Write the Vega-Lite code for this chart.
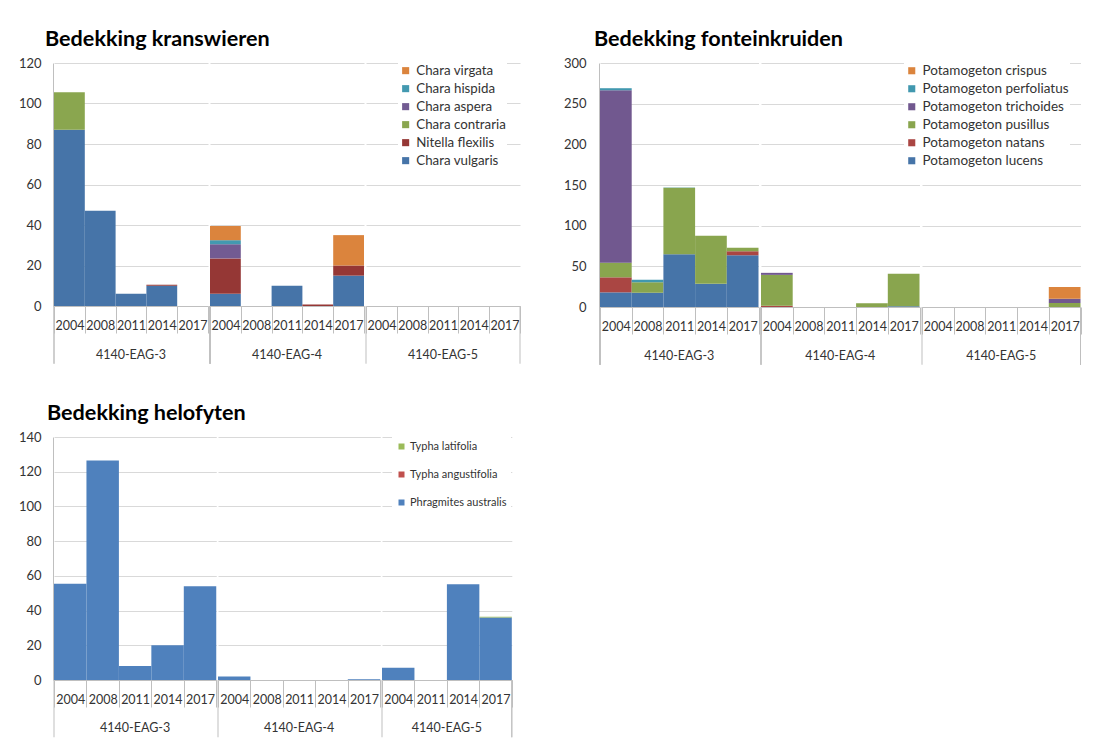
{
  "$schema": "https://vega.github.io/schema/vega-lite/v6.json",
  "padding": {"left": 18, "top": 29, "right": 5, "bottom": 5},
  "background": "white",
  "config": {
    "font": "Lato",
    "view": {"stroke": null},
    "axis": {"labelFont": "Lato", "labelColor": "#333333", "labelFontSize": 12.5, "domainColor": "#BFBFBF", "tickColor": "#BFBFBF", "gridColor": "#D9D9D9"},
    "legend": {"fillColor": "white", "labelFont": "Lato", "labelColor": "#333333", "symbolType": "square", "symbolStrokeWidth": 0, "title": null, "labelOffset": 4},
    "title": {"font": "Lato", "fontSize": 21.6, "fontWeight": "bold", "color": "#000000", "anchor": "start", "frame": "group"}
  },
  "datasets": {
    "kran": [
      {"loc": "4140-EAG-3", "year": "2004", "sp": "Chara vulgaris", "v": 87, "rank": 1},
      {"loc": "4140-EAG-3", "year": "2004", "sp": "Chara contraria", "v": 18.5, "rank": 3},
      {"loc": "4140-EAG-3", "year": "2008", "sp": "Chara vulgaris", "v": 47, "rank": 1},
      {"loc": "4140-EAG-3", "year": "2011", "sp": "Chara vulgaris", "v": 6, "rank": 1},
      {"loc": "4140-EAG-3", "year": "2014", "sp": "Chara vulgaris", "v": 10, "rank": 1},
      {"loc": "4140-EAG-3", "year": "2014", "sp": "Nitella flexilis", "v": 0.5, "rank": 2},
      {"loc": "4140-EAG-3", "year": "2017", "sp": "Chara vulgaris", "v": 0, "rank": 1},
      {"loc": "4140-EAG-4", "year": "2004", "sp": "Chara vulgaris", "v": 6, "rank": 1},
      {"loc": "4140-EAG-4", "year": "2004", "sp": "Nitella flexilis", "v": 17.5, "rank": 2},
      {"loc": "4140-EAG-4", "year": "2004", "sp": "Chara aspera", "v": 7, "rank": 4},
      {"loc": "4140-EAG-4", "year": "2004", "sp": "Chara hispida", "v": 2, "rank": 5},
      {"loc": "4140-EAG-4", "year": "2004", "sp": "Chara virgata", "v": 7, "rank": 6},
      {"loc": "4140-EAG-4", "year": "2008", "sp": "Chara vulgaris", "v": 0, "rank": 1},
      {"loc": "4140-EAG-4", "year": "2011", "sp": "Chara vulgaris", "v": 10, "rank": 1},
      {"loc": "4140-EAG-4", "year": "2014", "sp": "Nitella flexilis", "v": 0.7, "rank": 2},
      {"loc": "4140-EAG-4", "year": "2017", "sp": "Chara vulgaris", "v": 15, "rank": 1},
      {"loc": "4140-EAG-4", "year": "2017", "sp": "Nitella flexilis", "v": 5, "rank": 2},
      {"loc": "4140-EAG-4", "year": "2017", "sp": "Chara virgata", "v": 15, "rank": 6},
      {"loc": "4140-EAG-5", "year": "2004", "sp": "Chara vulgaris", "v": 0, "rank": 1},
      {"loc": "4140-EAG-5", "year": "2008", "sp": "Chara vulgaris", "v": 0, "rank": 1},
      {"loc": "4140-EAG-5", "year": "2011", "sp": "Chara vulgaris", "v": 0, "rank": 1},
      {"loc": "4140-EAG-5", "year": "2014", "sp": "Chara vulgaris", "v": 0, "rank": 1},
      {"loc": "4140-EAG-5", "year": "2017", "sp": "Chara vulgaris", "v": 0, "rank": 1}
    ],
    "fontein": [
      {"loc": "4140-EAG-3", "year": "2004", "sp": "Potamogeton lucens", "v": 18, "rank": 1},
      {"loc": "4140-EAG-3", "year": "2004", "sp": "Potamogeton natans", "v": 18.5, "rank": 2},
      {"loc": "4140-EAG-3", "year": "2004", "sp": "Potamogeton pusillus", "v": 18, "rank": 3},
      {"loc": "4140-EAG-3", "year": "2004", "sp": "Potamogeton trichoides", "v": 212, "rank": 4},
      {"loc": "4140-EAG-3", "year": "2004", "sp": "Potamogeton perfoliatus", "v": 2.5, "rank": 5},
      {"loc": "4140-EAG-3", "year": "2008", "sp": "Potamogeton lucens", "v": 17.5, "rank": 1},
      {"loc": "4140-EAG-3", "year": "2008", "sp": "Potamogeton pusillus", "v": 13, "rank": 3},
      {"loc": "4140-EAG-3", "year": "2008", "sp": "Potamogeton perfoliatus", "v": 3, "rank": 5},
      {"loc": "4140-EAG-3", "year": "2011", "sp": "Potamogeton lucens", "v": 65, "rank": 1},
      {"loc": "4140-EAG-3", "year": "2011", "sp": "Potamogeton pusillus", "v": 81.5, "rank": 3},
      {"loc": "4140-EAG-3", "year": "2011", "sp": "Potamogeton perfoliatus", "v": 0.5, "rank": 5},
      {"loc": "4140-EAG-3", "year": "2014", "sp": "Potamogeton lucens", "v": 28.5, "rank": 1},
      {"loc": "4140-EAG-3", "year": "2014", "sp": "Potamogeton pusillus", "v": 59, "rank": 3},
      {"loc": "4140-EAG-3", "year": "2017", "sp": "Potamogeton lucens", "v": 63.5, "rank": 1},
      {"loc": "4140-EAG-3", "year": "2017", "sp": "Potamogeton natans", "v": 5, "rank": 2},
      {"loc": "4140-EAG-3", "year": "2017", "sp": "Potamogeton pusillus", "v": 4.5, "rank": 3},
      {"loc": "4140-EAG-4", "year": "2004", "sp": "Potamogeton natans", "v": 1.5, "rank": 2},
      {"loc": "4140-EAG-4", "year": "2004", "sp": "Potamogeton pusillus", "v": 38, "rank": 3},
      {"loc": "4140-EAG-4", "year": "2004", "sp": "Potamogeton trichoides", "v": 2.5, "rank": 4},
      {"loc": "4140-EAG-4", "year": "2008", "sp": "Potamogeton lucens", "v": 0, "rank": 1},
      {"loc": "4140-EAG-4", "year": "2011", "sp": "Potamogeton lucens", "v": 0, "rank": 1},
      {"loc": "4140-EAG-4", "year": "2014", "sp": "Potamogeton pusillus", "v": 4.5, "rank": 3},
      {"loc": "4140-EAG-4", "year": "2017", "sp": "Potamogeton lucens", "v": 1, "rank": 1},
      {"loc": "4140-EAG-4", "year": "2017", "sp": "Potamogeton pusillus", "v": 40, "rank": 3},
      {"loc": "4140-EAG-5", "year": "2004", "sp": "Potamogeton lucens", "v": 0, "rank": 1},
      {"loc": "4140-EAG-5", "year": "2008", "sp": "Potamogeton lucens", "v": 0, "rank": 1},
      {"loc": "4140-EAG-5", "year": "2011", "sp": "Potamogeton lucens", "v": 0, "rank": 1},
      {"loc": "4140-EAG-5", "year": "2014", "sp": "Potamogeton lucens", "v": 0, "rank": 1},
      {"loc": "4140-EAG-5", "year": "2017", "sp": "Potamogeton pusillus", "v": 5, "rank": 3},
      {"loc": "4140-EAG-5", "year": "2017", "sp": "Potamogeton trichoides", "v": 5, "rank": 4},
      {"loc": "4140-EAG-5", "year": "2017", "sp": "Potamogeton crispus", "v": 14.5, "rank": 6}
    ],
    "helo": [
      {"loc": "4140-EAG-3", "year": "2004", "sp": "Phragmites australis", "v": 55.5, "rank": 1},
      {"loc": "4140-EAG-3", "year": "2008", "sp": "Phragmites australis", "v": 126.5, "rank": 1},
      {"loc": "4140-EAG-3", "year": "2011", "sp": "Phragmites australis", "v": 8, "rank": 1},
      {"loc": "4140-EAG-3", "year": "2014", "sp": "Phragmites australis", "v": 20, "rank": 1},
      {"loc": "4140-EAG-3", "year": "2017", "sp": "Phragmites australis", "v": 54, "rank": 1},
      {"loc": "4140-EAG-4", "year": "2004", "sp": "Phragmites australis", "v": 2, "rank": 1},
      {"loc": "4140-EAG-4", "year": "2008", "sp": "Phragmites australis", "v": 0, "rank": 1},
      {"loc": "4140-EAG-4", "year": "2011", "sp": "Phragmites australis", "v": 0, "rank": 1},
      {"loc": "4140-EAG-4", "year": "2014", "sp": "Phragmites australis", "v": 0, "rank": 1},
      {"loc": "4140-EAG-4", "year": "2017", "sp": "Phragmites australis", "v": 0.5, "rank": 1},
      {"loc": "4140-EAG-5", "year": "2004", "sp": "Phragmites australis", "v": 7, "rank": 1},
      {"loc": "4140-EAG-5", "year": "2011", "sp": "Phragmites australis", "v": 0, "rank": 1},
      {"loc": "4140-EAG-5", "year": "2014", "sp": "Phragmites australis", "v": 55.2, "rank": 1},
      {"loc": "4140-EAG-5", "year": "2017", "sp": "Phragmites australis", "v": 36, "rank": 1},
      {"loc": "4140-EAG-5", "year": "2017", "sp": "Typha latifolia", "v": 0.5, "rank": 3}
    ]
  },
  "resolve": {"scale": {"color": "independent", "y": "independent", "x": "independent"}, "legend": {"color": "independent"}},
  "spacing": 37,
  "vconcat": [
    {
      "resolve": {"scale": {"color": "independent", "y": "independent", "x": "independent"}, "legend": {"color": "independent"}},
      "spacing": 42,
      "hconcat": [
        {
          "data": {"name": "kran"},
          "title": {"text": "Bedekking kranswieren", "dx": -9, "offset": 6},
          "facet": {"column": {"field": "loc", "type": "nominal", "title": null, "header": {"labelOrient": "bottom", "labelPadding": -16, "labelFontSize": 12.5, "labelColor": "#333333", "labelFont": "Lato"}}},
          "spacing": 0,
          "resolve": {"scale": {"x": "independent"}},
          "spec": {
            "width": {"step": 30.8},
            "height": 243,
            "layer": [
              {
                "mark": {"type": "bar"},
                "encoding": {
                  "x": {"field": "year", "type": "nominal", "scale": {"paddingInner": 0, "paddingOuter": 0}, "axis": {"title": null, "labelAngle": 0, "tickBand": "extent", "tickSize": 27, "labelPadding": -14, "grid": false}},
                  "y": {"field": "v", "type": "quantitative", "stack": "zero", "scale": {"domain": [0, 120]}, "axis": {"title": null, "values": [0, 20, 40, 60, 80, 100, 120], "tickCount": 10, "ticks": false, "labelPadding": 12, "grid": true, "labelFontSize": 13, "labelOverlap": false}},
                  "color": {"field": "sp", "type": "nominal", "scale": {"domain": ["Chara virgata", "Chara hispida", "Chara aspera", "Chara contraria", "Nitella flexilis", "Chara vulgaris"], "range": ["#DB843D", "#4399B0", "#725B92", "#8AA64F", "#953735", "#4674A8"]}, "legend": {"orient": "right", "offset": -123, "padding": 1, "labelFontSize": 13.3, "symbolSize": 50, "rowPadding": 4}},
                  "order": {"field": "rank", "type": "quantitative"}
                }
              },
              {
                "transform": [{"filter": "datum.year == '2004'"}],
                "mark": {"type": "rule", "color": "#BFBFBF", "strokeWidth": 1},
                "encoding": {"x": {"field": "year", "type": "nominal", "bandPosition": 0}, "y": {"datum": 0}, "y2": {"datum": -28.5}}
              },
              {
                "transform": [{"filter": "datum.loc == '4140-EAG-5' && datum.year == '2017'"}],
                "mark": {"type": "rule", "color": "#BFBFBF", "strokeWidth": 1},
                "encoding": {"x": {"field": "year", "type": "nominal", "bandPosition": 1}, "y": {"datum": 0}, "y2": {"datum": -28.5}}
              }
            ]
          }
        },
        {
          "data": {"name": "fontein"},
          "title": {"text": "Bedekking fonteinkruiden", "dx": -6, "offset": 6},
          "facet": {"column": {"field": "loc", "type": "nominal", "title": null, "header": {"labelOrient": "bottom", "labelPadding": -16, "labelFontSize": 12.5, "labelColor": "#333333", "labelFont": "Lato"}}},
          "spacing": 0,
          "resolve": {"scale": {"x": "independent"}},
          "spec": {
            "width": {"step": 31.7},
            "height": 244,
            "layer": [
              {
                "mark": {"type": "bar"},
                "encoding": {
                  "x": {"field": "year", "type": "nominal", "scale": {"paddingInner": 0, "paddingOuter": 0}, "axis": {"title": null, "labelAngle": 0, "tickBand": "extent", "tickSize": 27, "labelPadding": -14, "grid": false}},
                  "y": {"field": "v", "type": "quantitative", "stack": "zero", "scale": {"domain": [0, 300]}, "axis": {"title": null, "values": [0, 50, 100, 150, 200, 250, 300], "tickCount": 10, "ticks": false, "labelPadding": 13, "grid": true, "labelFontSize": 13, "labelOverlap": false}},
                  "color": {"field": "sp", "type": "nominal", "scale": {"domain": ["Potamogeton crispus", "Potamogeton perfoliatus", "Potamogeton trichoides", "Potamogeton pusillus", "Potamogeton natans", "Potamogeton lucens"], "range": ["#DB843D", "#4198AF", "#71588F", "#89A54E", "#AA4643", "#4674A8"]}, "legend": {"orient": "right", "offset": -178, "padding": 1, "labelFontSize": 13.5, "symbolSize": 50, "rowPadding": 3}},
                  "order": {"field": "rank", "type": "quantitative"}
                }
              },
              {
                "transform": [{"filter": "datum.year == '2004'"}],
                "mark": {"type": "rule", "color": "#BFBFBF", "strokeWidth": 1},
                "encoding": {"x": {"field": "year", "type": "nominal", "bandPosition": 0}, "y": {"datum": 0}, "y2": {"datum": -71}}
              },
              {
                "transform": [{"filter": "datum.loc == '4140-EAG-5' && datum.year == '2017'"}],
                "mark": {"type": "rule", "color": "#BFBFBF", "strokeWidth": 1},
                "encoding": {"x": {"field": "year", "type": "nominal", "bandPosition": 1}, "y": {"datum": 0}, "y2": {"datum": -71}}
              }
            ]
          }
        }
      ]
    },
    {
      "data": {"name": "helo"},
      "title": {"text": "Bedekking helofyten", "dx": -7, "offset": 6},
      "facet": {"column": {"field": "loc", "type": "nominal", "title": null, "header": {"labelOrient": "bottom", "labelPadding": -16, "labelFontSize": 12.5, "labelColor": "#333333", "labelFont": "Lato"}}},
      "spacing": 0,
      "resolve": {"scale": {"x": "independent"}},
      "spec": {
        "width": {"step": 32.45},
        "height": 243,
        "layer": [
          {
            "mark": {"type": "bar"},
            "encoding": {
              "x": {"field": "year", "type": "nominal", "scale": {"paddingInner": 0, "paddingOuter": 0}, "axis": {"title": null, "labelAngle": 0, "tickBand": "extent", "tickSize": 27, "labelPadding": -14, "grid": false}},
              "y": {"field": "v", "type": "quantitative", "stack": "zero", "scale": {"domain": [0, 140]}, "axis": {"title": null, "values": [0, 20, 40, 60, 80, 100, 120, 140], "tickCount": 10, "ticks": false, "labelPadding": 12, "grid": true, "labelFontSize": 13, "labelOverlap": false}},
              "color": {"field": "sp", "type": "nominal", "scale": {"domain": ["Typha latifolia", "Typha angustifolia", "Phragmites australis"], "range": ["#9BBB59", "#C0504D", "#4F81BD"]}, "legend": {"orient": "right", "offset": -121, "padding": 4, "labelFontSize": 11, "symbolSize": 36, "rowPadding": 16, "labelOffset": 3}},
              "order": {"field": "rank", "type": "quantitative"}
            }
          },
          {
            "transform": [{"filter": "datum.year == '2004'"}],
            "mark": {"type": "rule", "color": "#BFBFBF", "strokeWidth": 1},
            "encoding": {"x": {"field": "year", "type": "nominal", "bandPosition": 0}, "y": {"datum": 0}, "y2": {"datum": -33}}
          },
          {
            "transform": [{"filter": "datum.loc == '4140-EAG-5' && datum.year == '2017'"}],
            "mark": {"type": "rule", "color": "#BFBFBF", "strokeWidth": 1},
            "encoding": {"x": {"field": "year", "type": "nominal", "bandPosition": 1}, "y": {"datum": 0}, "y2": {"datum": -33}}
          }
        ]
      }
    }
  ]
}
